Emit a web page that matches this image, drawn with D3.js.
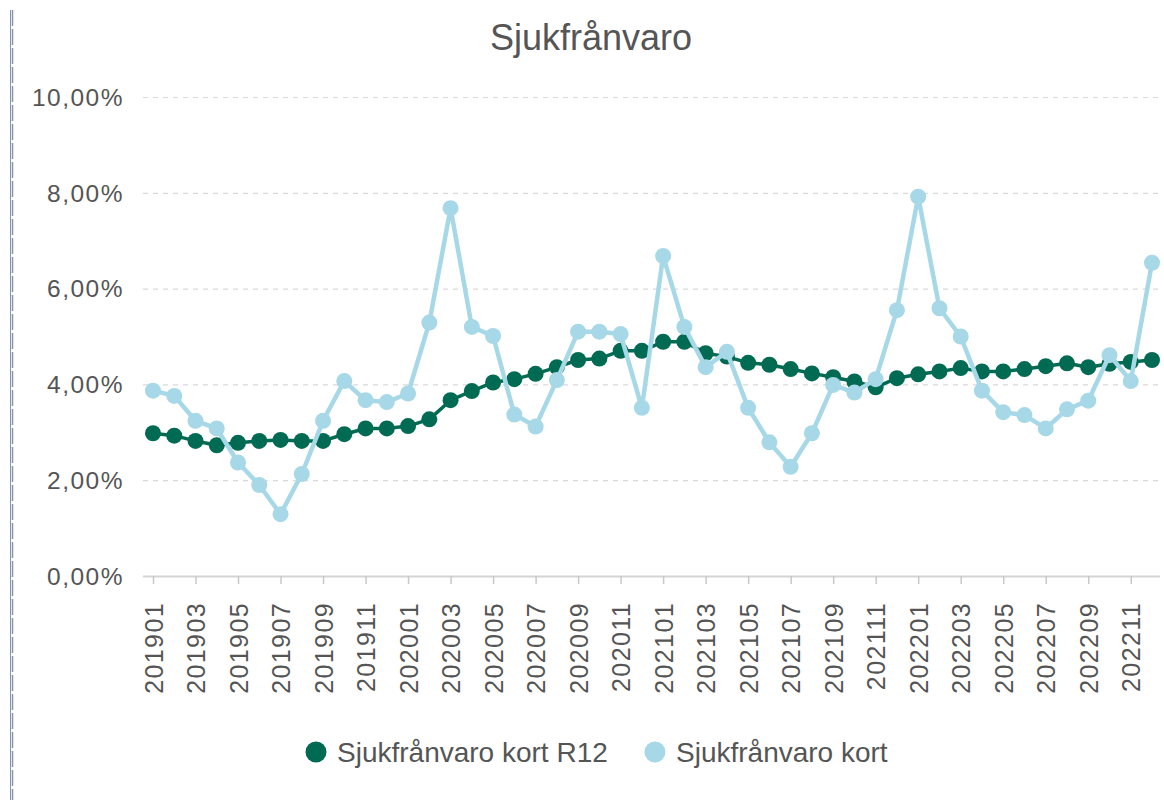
<!DOCTYPE html>
<html>
<head>
<meta charset="utf-8">
<script src="https://cdn.jsdelivr.net/npm/d3@7"></script>
<style>
  body { margin: 0; background: #fff; }
  text { font-family: "Liberation Sans", Arial, sans-serif; }
</style>
</head>
<body>
<script>
// months 201901 .. 202212
var months = [];
for (var yr = 2019; yr <= 2022; yr++) {
  for (var m = 1; m <= 12; m++) {
    months.push(yr + (m < 10 ? "0" : "") + m);
  }
}

var kortR12 = [2.98, 2.93, 2.82, 2.73, 2.78, 2.82, 2.84, 2.82, 2.82, 2.96, 3.08, 3.08,
               3.13, 3.27, 3.67, 3.86, 4.04, 4.11, 4.22, 4.36, 4.51, 4.54, 4.70, 4.70,
               4.89, 4.89, 4.65, 4.58, 4.45, 4.41, 4.32, 4.23, 4.15, 4.06, 3.94, 4.13,
               4.21, 4.27, 4.34, 4.27, 4.27, 4.32, 4.38, 4.44, 4.36, 4.43, 4.47, 4.51];

var kort = [3.87, 3.76, 3.24, 3.08, 2.37, 1.90, 1.29, 2.13, 3.24, 4.07, 3.67, 3.63,
            3.81, 5.29, 7.68, 5.20, 5.01, 3.37, 3.12, 4.09, 5.10, 5.10, 5.05, 3.51,
            6.68, 5.20, 4.36, 4.68, 3.51, 2.79, 2.28, 2.98, 3.99, 3.83, 4.11, 5.55,
            7.92, 5.59, 5.00, 3.87, 3.42, 3.36, 3.08, 3.48, 3.66, 4.61, 4.07, 6.54];

var yTicks = [0, 2, 4, 6, 8, 10];
var seriesNames = ["Sjukfrånvaro kort R12", "Sjukfrånvaro kort"];
var colors = ["#006a53", "#a6d8e7"];

var width = 1164, height = 800;

var svg = d3.select("body").append("svg")
    .attr("width", width)
    .attr("height", height);

// left frame line
svg.append("line")
    .attr("x1", 10.5).attr("x2", 10.5).attr("y1", 10).attr("y2", 800)
    .attr("stroke", "#8595ab").attr("stroke-width", 1);
svg.append("line")
    .attr("x1", 12.5).attr("x2", 12.5).attr("y1", 10).attr("y2", 800)
    .attr("stroke", "#8595ab").attr("stroke-width", 1.5)
    .attr("stroke-dasharray", "16,3");

var x = d3.scalePoint()
    .domain(months)
    .range([153, 1152]);

var y = d3.scaleLinear()
    .domain([0, 10])
    .range([576, 97]);

// title
svg.append("text")
    .attr("x", 591).attr("y", 50)
    .attr("text-anchor", "middle")
    .style("font-size", "36px")
    .style("fill", "#555")
    .text("Sjukfrånvaro");

// gridlines
svg.append("g").selectAll("line")
    .data(yTicks.filter(function(d) { return d > 0; }))
  .enter().append("line")
    .attr("x1", 143).attr("x2", 1160)
    .attr("y1", function(d) { return y(d) + 0.5; })
    .attr("y2", function(d) { return y(d) + 0.5; })
    .attr("stroke", "#d9d9d9")
    .attr("stroke-width", 1.2)
    .attr("stroke-dasharray", "5,5");

// y labels
svg.append("g").selectAll("text")
    .data(yTicks)
  .enter().append("text")
    .attr("x", 124)
    .attr("y", function(d) { return y(d); })
    .attr("dy", "0.36em")
    .attr("text-anchor", "end")
    .style("font-size", "24.5px")
    .style("letter-spacing", "1.5px")
    .style("fill", "#555")
    .text(function(d) { return d3.format(".2f")(d).replace(".", ",") + "%"; });

// x axis
var xAxis = d3.axisBottom(x)
    .tickValues(months.filter(function(d, i) { return i % 2 === 0; }))
    .tickSize(8)
    .tickPadding(6);

var gx = svg.append("g")
    .attr("transform", "translate(0,576)")
    .call(xAxis);
gx.select(".domain")
    .attr("d", "M143,0.5H1160")
    .attr("stroke", "#d4d4d4")
    .attr("stroke-width", 2);
gx.selectAll(".tick line").attr("stroke", "#c8c8c8").attr("stroke-width", 1.5);
gx.selectAll(".tick text")
    .attr("transform", "rotate(-90)")
    .attr("text-anchor", "end")
    .attr("x", -26)
    .attr("y", 0)
    .attr("dy", "0.36em")
    .style("font-size", "25px")
    .style("letter-spacing", "1.4px")
    .style("font-family", "'Liberation Sans', Arial, sans-serif")
    .style("fill", "#555");

var line = d3.line()
    .x(function(d, i) { return x(months[i]); })
    .y(function(d) { return y(d); });

function drawSeries(data, color, lw, r) {
  var g = svg.append("g");
  g.append("path")
      .datum(data)
      .attr("fill", "none")
      .attr("stroke", color)
      .attr("stroke-width", lw)
      .attr("stroke-linejoin", "round")
      .attr("d", line);
  g.selectAll("circle")
      .data(data)
    .enter().append("circle")
      .attr("cx", function(d, i) { return x(months[i]); })
      .attr("cy", function(d) { return y(d); })
      .attr("r", r)
      .attr("fill", color);
}

drawSeries(kortR12, colors[0], 3.5, 8);
drawSeries(kort, colors[1], 4.5, 8);

// legend
var legend = svg.append("g");
var legX = [316, 655];
seriesNames.forEach(function(name, i) {
  legend.append("circle")
      .attr("cx", legX[i]).attr("cy", 752)
      .attr("r", 10.5)
      .attr("fill", colors[i]);
  legend.append("text")
      .attr("x", legX[i] + 21).attr("y", 752)
      .attr("dy", "0.36em")
      .style("font-size", "28px")
      .style("fill", "#555")
      .text(name);
});
</script>
</body>
</html>
